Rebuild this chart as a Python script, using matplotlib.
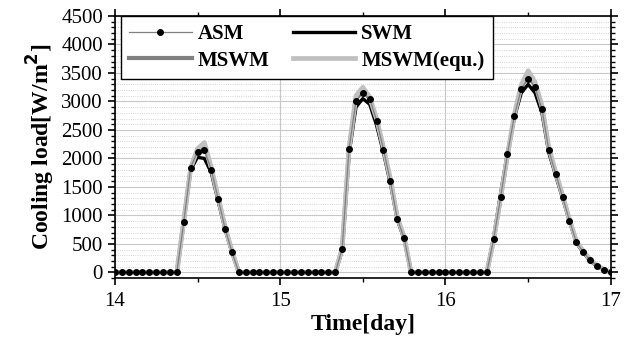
"""Cooling load of four wall models over three days (hourly values)."""

import numpy as np
from matplotlib import pyplot as plt
from matplotlib.ticker import MultipleLocator

# hourly values, day 14 00:00 .. day 17 00:00
hours = np.arange(73)
time_day = 14 + hours / 24

ASM = (
    [0] * 10 + [880, 1840, 2120, 2150, 1800, 1290, 770, 360] + [0] * 6
    + [0] * 9 + [415, 2170, 3000, 3150, 3050, 2665, 2155, 1600, 940, 600] + [0] * 5
    + [0] * 7 + [590, 1320, 2080, 2750, 3220, 3400, 3250, 2870, 2140, 1730,
                 1320, 910, 530, 360, 210, 120, 40] + [0]
)
SWM = (
    [0] * 10 + [900, 1800, 2020, 2000, 1750, 1250, 760, 350] + [0] * 6
    + [0] * 9 + [380, 2080, 2900, 3050, 2950, 2580, 2100, 1560, 930, 580] + [0] * 5
    + [0] * 7 + [620, 1380, 2100, 2720, 3150, 3300, 3150, 2800, 2100, 1700,
                 1300, 900, 520, 350, 200, 110, 40] + [0]
)
MSWM = (
    [0] * 10 + [900, 1820, 2150, 2220, 1820, 1310, 790, 370] + [0] * 6
    + [0] * 9 + [420, 2150, 3050, 3200, 3050, 2680, 2170, 1620, 960, 610] + [0] * 5
    + [0] * 7 + [580, 1300, 2050, 2750, 3250, 3470, 3300, 2900, 2170, 1750,
                 1340, 920, 540, 370, 220, 120, 50] + [0]
)
MSWM_EQU = (
    [0] * 10 + [900, 1830, 2170, 2280, 1840, 1320, 800, 380] + [0] * 6
    + [0] * 9 + [430, 2180, 3100, 3250, 3080, 2700, 2190, 1640, 970, 620] + [0] * 5
    + [0] * 7 + [580, 1310, 2060, 2780, 3290, 3540, 3340, 2930, 2190, 1760,
                 1350, 930, 550, 375, 225, 125, 50] + [0]
)

plt.rcParams["font.family"] = ["Liberation Serif", "DejaVu Serif"]

fig = plt.figure(figsize=(6.31, 3.40), dpi=100)
ax = fig.add_axes([0.182, 0.182, 0.786, 0.771])

ax.plot(time_day, SWM, color="black", lw=2.4, label="SWM", zorder=3)
ax.plot(time_day, MSWM, color="#808080", lw=3.0, label="MSWM", zorder=4)
ax.plot(time_day, MSWM_EQU, color="#c0c0c0", lw=3.4, label="MSWM(equ.)", zorder=5)
ax.plot(time_day, ASM, color="#808080", lw=0.9, marker="o", ms=4,
        mfc="black", mec="black", label="ASM", zorder=6)

ax.set_xlim(14, 17)
ax.set_ylim(-100, 4500)
ax.xaxis.set_major_locator(MultipleLocator(1))
ax.xaxis.set_minor_locator(MultipleLocator(0.5))
ax.yaxis.set_major_locator(MultipleLocator(500))
ax.yaxis.set_minor_locator(MultipleLocator(100))

ax.grid(which="major", color="#c8c8c8", lw=0.8)
ax.grid(which="minor", axis="y", color="#c8c8c8", lw=0.6, ls=":")
ax.set_axisbelow(True)

ax.tick_params(which="both", direction="out", labelsize=15, top=True, right=True)
ax.tick_params(which="major", length=5, width=1.2)
ax.tick_params(which="minor", length=3, width=1)
ax.tick_params(axis="x", pad=5)
for side in ax.spines.values():
    side.set_linewidth(1.2)

ax.set_xlabel("Time[day]", fontsize=17, fontweight="bold", labelpad=2)
ax.set_ylabel("Cooling load[W/m$^\\mathbf{2}$]", fontsize=17, fontweight="bold", labelpad=3)

handles, labels = ax.get_legend_handles_labels()
order = [labels.index(n) for n in ["ASM", "MSWM", "SWM", "MSWM(equ.)"]]
leg = ax.legend(
    [handles[i] for i in order], [labels[i] for i in order],
    ncol=2, loc="upper left", bbox_to_anchor=(0.012, 1.0), numpoints=1,
    fancybox=False, framealpha=1, edgecolor="black", handlelength=3.0,
    columnspacing=1.1, handletextpad=0.3, borderaxespad=0, labelspacing=0.3,
    borderpad=0.4, prop={"weight": "bold", "size": 15},
)
leg.get_frame().set_linewidth(1.0)

fig.savefig("out.png", dpi=100)
